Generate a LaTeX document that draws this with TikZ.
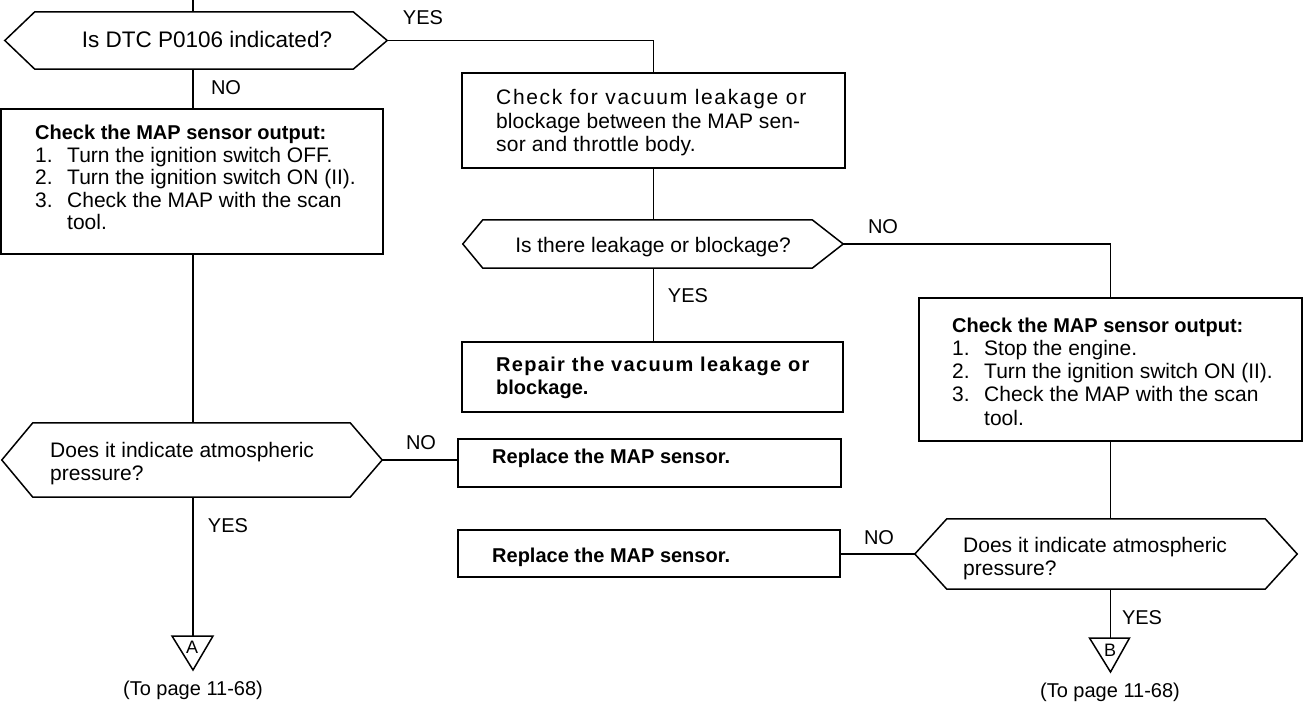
\documentclass[tikz,border=0pt]{standalone}
\usepackage{fontspec}
\setmainfont{Liberation Sans}
\usetikzlibrary{calc}
\newcommand\hexdraw[3]{\draw[boxline] (#1.west) -- ([xshift=#2]#1.north west) -- ([xshift=-#3]#1.north east) -- (#1.east) -- ([xshift=-#3]#1.south east) -- ([xshift=#2]#1.south west) -- cycle;}
\newcommand\itm[1]{\makebox[32pt][l]{#1}}
\newcommand\hd[1]{{\fontsize{20}{22}\selectfont\bfseries #1}}
\begin{document}
\begin{tikzpicture}[x=1pt,y=-1pt,
  boxline/.style={line width=1.5pt, line join=miter},
  conn/.style={line width=1.4pt},
  box/.style={draw, line width=1.5pt, rectangle, inner sep=0},
  hexn/.style={rectangle, inner sep=0},
  lbl/.style={inner sep=0, font=\fontsize{20}{22}\selectfont},
  tri/.style={inner sep=0, font=\fontsize{18}{19}\selectfont},
  txt/.style={inner sep=0, align=left, font=\fontsize{21}{22.5}\selectfont},
  btxt/.style={inner sep=0, align=left, font=\fontsize{20}{23}\selectfont\bfseries}]
\fill[white] (0,0) rectangle (1306,708);
\useasboundingbox (0,0) rectangle (1306,708);

% ---------- left column ----------
\coordinate (c0) at (193,0);
\node[hexn, minimum width=382, minimum height=57] (h1) at (196,40.5) {};
\hexdraw{h1}{30}{34}
\node[inner sep=0, anchor=base, font=\fontsize{22.5}{24}\selectfont] (h1t) at (207,48) {Is DTC P0106 indicated?};

\node[box, minimum width=382, minimum height=145] (b1) at (192,181.5) {};
\node[txt, anchor=base west] (b1t) at (35,230) {\hd{Check the MAP sensor output:}\\\itm{1.}Turn the ignition switch OFF.\\\itm{2.}Turn the ignition switch ON (II).\\\itm{3.}Check the MAP with the scan\\\itm{}tool.};

\node[hexn, minimum width=380, minimum height=74] (h2) at (192,460) {};
\hexdraw{h2}{31}{32}
\node[txt, anchor=base west] (h2t) at (50,480) {Does it indicate atmospheric\\pressure?};

\node[box, minimum width=383, minimum height=48] (b3) at (649.5,463) {};
\node[btxt, anchor=base west] (b3t) at (492,463) {Replace the MAP sensor.};

\coordinate (tA) at (193,636);
\coordinate (tAa) at (193,670);
\draw[boxline] ([xshift=-21]tA) -- ([xshift=20]tA) -- (tAa) -- cycle;
\node[tri] (tAl) at (192,647) {A};
\node[lbl] (tAp) at (193,690) {(To page 11-68)};

% ---------- middle column ----------
\node[box, minimum width=383, minimum height=95] (b2) at (653.5,120.5) {};
\node[txt, anchor=base west, font=\fontsize{21}{23.5}\selectfont] (b2t) at (496,152) {{\addfontfeature{LetterSpace=8}Check for vacuum leakage or}\\{\addfontfeature{LetterSpace=0.3}blockage between the MAP sen-}\\{\addfontfeature{LetterSpace=1}sor and throttle body.}};

\node[hexn, minimum width=380, minimum height=48] (h3) at (653,244) {};
\hexdraw{h3}{20}{31}
\node[inner sep=0, anchor=base, font=\fontsize{21}{22}\selectfont] (h3t) at (653,253) {Is there leakage or blockage?};

\node[box, minimum width=381, minimum height=70] (b5) at (652.5,377) {};
\node[btxt, anchor=base west] (b5t) at (496,394) {{\addfontfeature{LetterSpace=6.5}Repair the vacuum leakage or}\\blockage.};

\node[box, minimum width=382, minimum height=47] (b6) at (649,553.5) {};
\node[btxt, anchor=base west] (b6t) at (492,562) {Replace the MAP sensor.};

% ---------- right column ----------
\node[box, minimum width=383, minimum height=143] (b4) at (1110.5,369.5) {};
\node[txt, anchor=base west, font=\fontsize{21}{23.2}\selectfont] (b4t) at (952,425) {\hd{Check the MAP sensor output:}\\\itm{1.}Stop the engine.\\\itm{2.}Turn the ignition switch ON (II).\\\itm{3.}Check the MAP with the scan\\\itm{}tool.};

\node[hexn, minimum width=382, minimum height=70] (h4) at (1106,554) {};
\hexdraw{h4}{32}{32}
\node[txt, anchor=base west, font=\fontsize{21}{23}\selectfont] (h4t) at (963,575) {Does it indicate atmospheric\\pressure?};

\coordinate (tB) at (1110.5,638);
\coordinate (tBa) at (1110.5,672);
\draw[boxline] ([xshift=-21]tB) -- ([xshift=19]tB) -- (tBa) -- cycle;
\node[tri] (tBl) at (1110,650) {B};
\node[lbl] (tBp) at (1110,692) {(To page 11-68)};

% ---------- connectors ----------
\draw[conn] (c0) -- (c0 |- h1.north);
\draw[conn] (h1.south -| c0) -- (b1.north -| c0);
\draw[conn] (b1.south -| c0) -- (h2.north -| c0);
\draw[conn] (h2.south -| c0) -- (tA);
\draw[conn] (h1.east) -| (b2.north);
\draw[conn] (b2.south) -- (b2.south |- h3.north);
\draw[conn] (h3.south -| b2.south) -- (b5.north -| b2.south);
\draw[conn] (h3.east) -| (b4.north);
\draw[conn] (b4.south) -- (b4.south |- h4.north);
\draw[conn] (h4.south -| b4.south) -- (tB);
\draw[conn] (h2.east) -- (h2.east -| b3.west);
\draw[conn] (h4.west) -- (h4.west -| b6.east);

% ---------- branch labels ----------
\node[lbl] (l1) at (226,88) {NO};
\node[lbl] (l2) at (423,18) {YES};
\node[lbl] (l3) at (421,442.5) {NO};
\node[lbl] (l4) at (228,526) {YES};
\node[lbl] (l5) at (883,227) {NO};
\node[lbl] (l6) at (688,296) {YES};
\node[lbl] (l7) at (879,538) {NO};
\node[lbl] (l8) at (1142,618) {YES};
\end{tikzpicture}
\end{document}
